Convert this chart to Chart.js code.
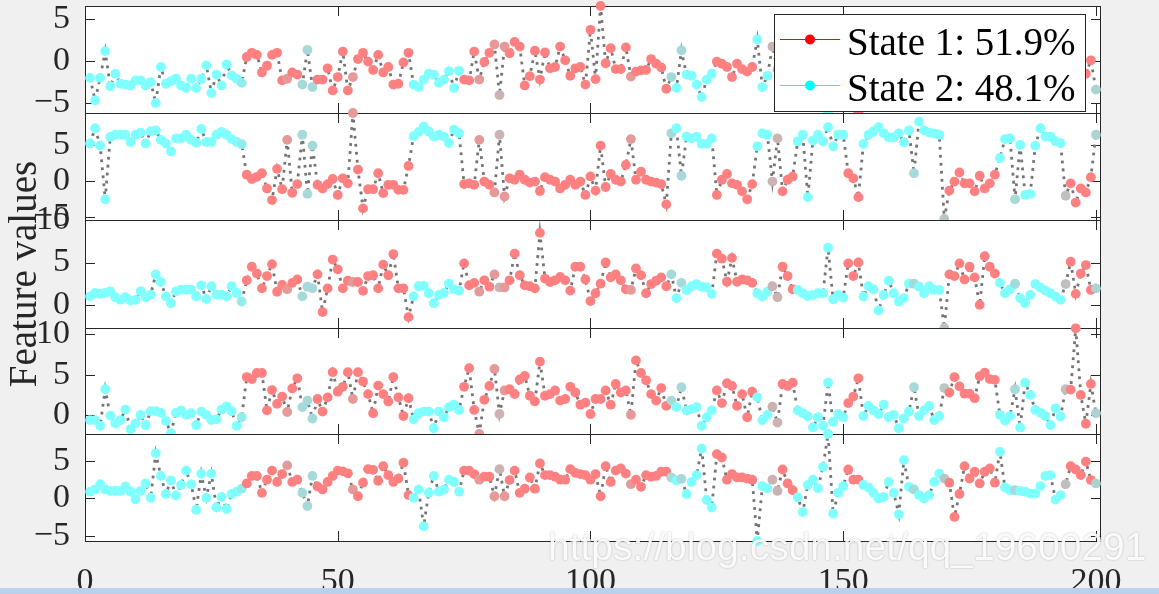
<!DOCTYPE html>
<html>
<head>
<meta charset="utf-8">
<script src="https://cdn.jsdelivr.net/npm/chart.js@4.4.1/dist/chart.umd.min.js"></script>
<style>
html,body{margin:0;padding:0;background:#f0f0f0;width:1159px;height:594px;overflow:hidden;position:relative}
canvas.c{position:absolute;left:0;top:0}
#wm{position:absolute;left:548px;top:525px;font-family:"Liberation Sans",Arial,sans-serif;font-size:39px;color:rgba(255,255,255,0.92);text-shadow:0 0 2px rgba(0,0,0,0.28);white-space:nowrap;z-index:10}
#band{position:absolute;left:0;top:588px;width:1159px;height:6px;background:#b9d1ea;z-index:11}
</style>
</head>
<body>
<canvas id="p1" class="c" width="1159" height="594"></canvas>
<canvas id="p2" class="c" width="1159" height="594"></canvas>
<canvas id="p3" class="c" width="1159" height="594"></canvas>
<canvas id="p4" class="c" width="1159" height="594"></canvas>
<canvas id="p5" class="c" width="1159" height="594"></canvas>
<div id="wm">https://blog.csdn.net/qq_19600291</div>
<div id="band"></div>
<script>
// ---------------- data ----------------
const timeSteps = Array.from({length: 200}, (_, k) => k + 1);

const feature1 = [
-2.0,-4.7,-2.0,1.2,-3.0,-1.5,-2.7,-2.8,-2.9,-2.3,
-2.3,-2.9,-2.5,-5.0,-0.7,-2.7,-2.4,-2.1,-2.9,-3.2,
-2.1,-3.2,-2.1,-0.5,-3.8,-1.6,-2.9,-0.4,-1.7,-2.1,
-2.6,0.5,1.0,0.75,-1.35,-0.55,0.75,1.0,-2.3,-2.1,
-1.35,-1.6,-2.8,1.35,-3.1,-2.2,-2.2,-0.85,-3.5,-1.9,
1.15,-3.5,-1.9,0.25,1.0,-0.05,-1.05,0.75,-1.35,-0.7,
-2.8,-2.7,-0.15,1.0,-2.8,-3.1,-2.2,-1.5,-1.6,-2.6,
-2.2,-1.2,-3.2,-1.15,-2.2,-2.3,1.15,-2.2,-0.1,1.0,
2.0,-4.05,1.75,0.95,2.3,1.75,-2.9,-1.8,1.25,-2.2,
1.05,-0.85,-0.7,1.75,0.1,-1.75,-0.85,-0.7,-2.8,3.75,
-2.15,6.6,-0.25,1.55,-0.95,-0.95,1.65,-1.85,-1.25,-1.1,
-1.05,0.25,-0.3,-0.75,-3.3,-1.9,-3.2,1.3,-1.6,-1.75,
-2.8,-4.3,-2.2,-1.5,-0.05,-0.3,-0.7,-1.9,-0.3,-0.95,
-1.25,-0.7,2.6,-3.1,-1.75,1.75,-1.0,-0.5,-2.0,0.8,
-2.5,-3.0,-1.8,-2.9,-2.4,-3.3,-6.2,-2.1,-2.7,-1.5,
0.6,-1.2,-6.1,-2.6,-3.0,-2.2,-3.4,-2.5,-1.9,-2.8,
-3.1,-2.0,-2.6,-0.8,-2.9,-2.3,-3.5,-2.1,-2.7,-1.2,
0.4,-1.6,1.1,-0.9,-2.2,0.7,-1.3,1.5,-0.6,-1.8,
-2.4,-3.0,-2.2,0.3,-2.8,-3.3,-2.0,-2.6,-3.1,-1.9,
-2.5,-3.0,-2.3,-0.5,0.9,-1.4,1.2,-1.5,0.1,-3.4];

const feature2 = [
5.2,7.3,4.9,-2.5,6.1,6.4,6.4,6.4,5.4,6.4,
6.7,5.2,6.9,7.0,5.7,5.2,4.1,5.9,5.9,6.4,
5.7,5.3,7.2,5.4,5.4,6.4,6.8,6.4,5.8,5.4,
5.1,0.9,0.3,0.6,1.1,-1.0,-2.6,1.7,-1.1,5.7,
-1.6,-0.4,6.4,-1.75,4.9,-0.5,-1.0,-0.4,0.3,-1.9,
0.4,-0.3,9.4,1.6,-3.75,-1.1,-1.1,1.1,-1.65,-0.5,
-0.5,-1.2,-1.2,2.1,6.2,6.8,7.55,6.85,6.15,6.4,
6.15,5.25,7.1,6.6,-0.4,-0.3,-0.5,5.7,-0.05,-0.5,
-1.55,6.4,-2.1,0.4,0.2,0.9,0.2,-0.2,-0.05,-1.35,
0.55,0.2,-0.05,-1.0,-0.5,0.2,-0.5,-0.05,-1.9,0.65,
-1.3,4.9,-0.8,1.0,0.2,-0.05,2.25,5.8,0.2,1.3,
0.2,-0.05,-0.2,-0.4,-3.2,6.6,7.3,0.75,6.15,5.9,
6.15,5.15,5.15,5.9,-1.9,0.2,1.0,-0.3,-0.5,-1.4,
-2.5,-0.4,4.8,6.6,6.4,-0.05,5.9,-1.4,0.2,0.65,
5.5,6.4,-2.2,5.6,6.4,5.5,7.45,4.8,6.4,6.4,
1.1,0.4,-2.2,5.15,6.4,6.85,7.45,6.6,6.05,6.05,
6.6,5.35,7.0,1.1,8.2,7.0,6.7,6.6,6.4,-5.2,
-1.3,-0.05,1.2,-0.3,-0.3,-1.4,0.75,-1.0,-0.3,0.9,
3.2,5.8,5.9,-2.5,5.0,-1.9,-1.75,4.9,7.3,6.15,
6.15,5.5,5.25,-2.0,-0.3,-2.95,-1.0,-1.55,0.55,6.4];

const feature3 = [
1.0,1.4,1.3,1.4,1.6,0.9,0.6,0.9,0.5,0.6,
1.6,0.9,1.2,3.6,2.7,1.0,0.2,1.6,1.8,1.8,
1.8,1.0,2.3,0.7,2.2,1.2,1.2,1.0,2.2,1.4,
0.4,2.9,4.5,3.7,1.95,3.4,4.8,1.55,2.35,1.85,
2.6,3.0,1.0,2.15,1.95,3.6,-0.85,1.95,5.35,4.2,
1.95,2.85,2.7,2.7,1.65,3.4,3.5,1.95,4.75,3.5,
6.0,1.95,1.95,-1.45,1.0,2.2,2.25,1.37,0.2,1.17,
1.4,2.5,1.84,1.68,4.9,2.3,2.6,1.56,2.9,2.15,
3.6,2.06,2.06,2.9,6.05,3.5,2.3,2.2,1.95,8.5,
3.1,2.7,2.9,3.3,2.9,1.68,4.5,4.5,3.0,0.45,
1.37,2.5,5.0,3.25,3.6,2.9,1.84,1.76,4.3,3.5,
1.37,2.46,2.85,3.25,2.2,3.6,0.8,2.6,1.76,2.2,
2.46,2.15,2.06,1.3,6.05,5.45,2.73,5.55,2.73,3.0,
2.9,2.6,1.37,0.98,1.56,2.2,0.9,4.5,3.4,1.84,
1.76,1.37,1.05,1.17,1.37,1.37,6.75,0.66,1.17,0.86,
4.9,3.4,5.0,0.98,2.2,1.84,-0.66,1.17,2.85,1.37,
0.4,0.8,2.5,2.5,2.15,1.37,2.2,1.76,1.76,-2.73,
3.6,3.4,4.9,3.0,4.5,3.25,0.0,5.75,4.5,3.7,
2.6,1.37,1.84,2.5,0.8,0.2,1.17,2.46,2.06,1.68,
1.37,0.98,0.6,2.46,5.1,1.3,3.7,4.7,1.76,1.95];

const feature4 = [
-0.6,-0.6,-1.3,3.2,-0.05,-1.0,-0.6,0.7,-1.7,-1.0,
0.05,-1.2,0.5,0.5,0.3,-0.7,-2.2,0.3,0.6,0.05,
0.25,-1.2,0.45,0.05,-0.6,-0.5,0.7,1.1,0.5,-1.3,
-0.25,4.7,4.45,5.2,5.2,0.6,3.1,1.4,2.3,0.4,
3.3,4.55,1.0,1.8,-0.4,2.0,0.45,2.2,5.3,2.9,
3.5,5.3,2.0,5.3,4.15,2.6,0.25,3.65,2.6,1.7,
4.7,2.2,-0.1,2.1,-0.5,0.25,0.45,0.45,-1.6,0.45,
-0.25,1.0,1.3,0.65,3.5,5.8,0.65,-2.3,1.9,3.6,
5.7,0.15,3.05,3.2,2.6,4.4,4.85,2.4,1.7,6.6,
2.4,2.6,3.05,1.8,2.0,3.5,2.8,1.3,1.55,0.15,
2.0,2.0,3.05,1.3,3.85,2.8,3.05,0.05,6.75,5.2,
4.3,2.6,1.8,3.35,1.15,1.8,1.0,3.45,0.6,0.75,
1.0,-1.3,-0.25,0.6,3.05,1.5,3.95,3.6,1.15,2.6,
-0.25,2.9,2.2,-0.6,0.05,1.05,-0.9,3.85,3.6,4.0,
0.6,0.25,-0.15,-1.5,-0.25,-1.3,4.0,-0.8,0.15,-0.25,
1.5,2.3,4.55,-0.1,1.15,0.6,0.15,1.3,-0.25,0.05,
-1.6,-0.4,0.45,3.45,-0.1,0.6,1.15,-0.6,-0.1,3.35,
2.8,4.7,3.55,2.65,2.65,2.1,4.8,5.25,4.45,4.35,
0.05,-0.65,-0.1,3.2,-1.5,4.0,2.5,0.65,0.3,-0.1,
-1.2,0.85,-0.15,3.2,3.15,10.7,2.5,-1.05,3.85,0.25];

const feature5 = [
0.9,1.2,1.9,1.2,1.0,1.0,1.0,1.6,0.9,-0.1,
1.0,2.0,0.1,6.0,3.0,0.6,2.4,0.4,1.8,3.7,
1.9,-1.5,3.3,0.1,3.3,-1.2,0.2,-1.4,0.6,0.9,
1.3,2.0,3.0,3.0,0.75,2.5,3.7,2.2,3.25,4.4,
2.2,2.5,0.75,-1.0,3.0,1.6,1.2,2.2,3.0,3.7,
3.6,3.35,1.2,0.3,2.1,3.9,3.8,2.35,4.3,3.1,
2.2,2.65,4.75,0.45,0.1,1.2,-3.7,0.75,3.0,0.9,
1.2,2.5,2.2,0.9,3.7,3.7,3.25,2.5,2.9,2.9,
0.3,3.9,0.3,2.45,3.7,0.75,1.3,2.8,1.3,4.65,
3.1,3.1,2.9,2.5,2.5,3.9,3.4,3.25,3.1,2.5,
3.25,0.3,4.3,2.2,3.7,4.0,3.3,1.9,2.5,1.55,
3.1,2.9,3.0,3.55,3.55,2.8,2.4,2.6,0.6,2.2,
3.1,6.65,-0.2,-1.2,5.9,5.45,2.5,3.25,2.8,2.8,
2.65,2.5,-5.65,1.65,1.35,2.5,1.0,3.85,2.0,1.1,
0.15,-1.8,1.8,2.5,1.35,4.2,8.57,-2.0,0.75,1.65,
3.85,2.5,2.5,1.8,1.45,0.75,0.0,0.2,2.2,0.75,
-2.1,5.1,1.55,1.2,0.45,0.0,0.45,2.2,3.3,2.65,
2.1,-2.45,0.6,4.3,2.65,3.55,2.0,3.55,4.0,2.1,
6.2,1.45,1.1,1.1,1.0,0.9,0.65,0.65,1.65,3.0,
3.1,-0.15,0.45,1.9,4.3,3.85,3.1,4.9,2.45,2.0];

// probability of State 1 at each time step (1 = State 1, 0 = State 2)
const probState1 = [
0,0,0,0,0,0,0,0,0,0,
0,0,0,0,0,0,0,0,0,0,
0,0,0,0,0,0,0,0,0,0,
0.15,1,1,1,1,1,1,1,1,0.8,
1,1,0.3,0.3,0.3,1,1,1,1,1,
1,1,0.8,1,1,1,1,1,1,1,
1,1,1,1,0,0,0,0,0,0,
0,0,0,0,1,1,1,0.8,1,1,
0.8,0.6,0.8,1,1,1,1,1,1,1,
1,1,1,1,1,1,1,1,1,1,
1,1,1,1,1,1,1,0.8,1,1,
1,1,1,1,1,0.3,0,0.3,0,0,
0,0,0,0,1,1,1,1,1,1,
1,1,0,0,0,0.6,0.6,1,1,1,
0,0,0,0,0,0,0,0,0,0,
1,1,1,0,0,0,0,0,0,0,
0,0,0,0.3,0,0,0,0,0,0.45,
1,1,1,1,1,1,1,1,1,1,
0,0,0,0.3,0,0,0,0,0,0,
0,0,0,0.5,1,1,1,1,1,0.35];

const features = [feature1, feature2, feature3, feature4, feature5];
const yTickValues = [[-5, 0, 5], [-5, 0, 5], [0, 5, 10], [0, 5, 10], [-5, 0, 5]];
const yLimits = [[-6.2, 6.6], [-5.35, 9.4], [-2.73, 10.02], [-2.31, 10.74], [-5.65, 8.57]];
const xTickValues = [0, 50, 100, 150, 200];
const legendLabels = ['State 1: 51.9%', 'State 2: 48.1%'];
const legendColors = ['#ff0000', '#00ffff'];
const yAxisTitle = 'Feature values';

// ---------------- layout / style ----------------
const W = 1159, H = 594;
const panelEdges = [6, 113, 220, 328, 434, 541];
const plotLeft = 85, plotRight = 1101;
const TICK_LEN = 10;
const AXIS_COLOR = '#262626';
const SERIF = '"Liberation Serif","Times New Roman",serif';

function stateColor(p) {
  const r = Math.round(255 * (0.5 + 0.5 * p));
  const g = Math.round(255 * (1 - 0.5 * p));
  return 'rgb(' + r + ',' + g + ',' + g + ')';
}
const pointColors = probState1.map(stateColor);

const framePlugin = {
  id: 'frame',
  beforeDraw(chart) {
    const {ctx, chartArea: a} = chart;
    ctx.save();
    ctx.fillStyle = '#ffffff';
    ctx.fillRect(a.left, a.top, a.right - a.left, a.bottom - a.top);
    ctx.restore();
  },
  beforeDatasetsDraw(chart) {
    const {ctx, chartArea: a, scales} = chart;
    const x = scales.x, y = scales.y;
    ctx.save();
    ctx.strokeStyle = AXIS_COLOR;
    ctx.lineWidth = 1;
    ctx.beginPath();
    xTickValues.forEach(v => {
      const px = Math.round(x.getPixelForValue(v)) + 0.5;
      ctx.moveTo(px, a.top); ctx.lineTo(px, a.top + TICK_LEN);
      ctx.moveTo(px, a.bottom); ctx.lineTo(px, a.bottom - TICK_LEN);
    });
    chart.options.yTicks.forEach(v => {
      const py = Math.round(y.getPixelForValue(v)) + 0.5;
      ctx.moveTo(a.left, py); ctx.lineTo(a.left + TICK_LEN, py);
      ctx.moveTo(a.right, py); ctx.lineTo(a.right - TICK_LEN, py);
    });
    ctx.stroke();
    ctx.strokeRect(a.left + 0.5, a.top + 0.5, a.right - a.left - 1, a.bottom - a.top);
    ctx.restore();
  }
};

const legendPlugin = {
  id: 'stateLegend',
  afterDatasetsDraw(chart) {
    const ctx = chart.ctx;
    const box = {l: 774, t: 14, r: 1085, b: 111};
    ctx.save();
    ctx.fillStyle = '#ffffff';
    ctx.fillRect(box.l, box.t, box.r - box.l, box.b - box.t);
    ctx.strokeStyle = AXIS_COLOR;
    ctx.lineWidth = 1;
    ctx.strokeRect(box.l + 0.5, box.t + 0.5, box.r - box.l, box.b - box.t);
    const rows = [39.5, 85.5];
    legendLabels.forEach((lab, k) => {
      const yy = rows[k];
      ctx.strokeStyle = legendColors[k];
      ctx.lineWidth = 1;
      ctx.beginPath(); ctx.moveTo(780, yy); ctx.lineTo(840, yy); ctx.stroke();
      ctx.fillStyle = legendColors[k];
      ctx.beginPath(); ctx.arc(810, yy, 5, 0, Math.PI * 2); ctx.fill();
      ctx.fillStyle = '#000000';
      ctx.font = '39px ' + SERIF;
      ctx.textBaseline = 'alphabetic';
      ctx.textAlign = 'left';
      ctx.fillText(lab, 847, yy + 15);
    });
    ctx.restore();
  }
};

function makePanel(idx) {
  const isLast = idx === 4;
  const top = panelEdges[idx], bottom = panelEdges[idx + 1];
  const vals = features[idx];
  const ticks = yTickValues[idx];
  const cfg = {
    type: 'line',
    data: {
      datasets: [{
        data: timeSteps.map((t, k) => ({x: t, y: vals[k]})),
        borderColor: '#747474',
        borderWidth: 2.8,
        borderDash: [2.8, 5.2],
        borderCapStyle: 'butt',
        pointRadius: 4.9,
        pointHoverRadius: 4.9,
        pointBorderWidth: 0,
        pointBackgroundColor: pointColors,
        pointBorderColor: pointColors,
        tension: 0,
        clip: false,
        fill: false
      }]
    },
    options: {
      responsive: false,
      animation: false,
      devicePixelRatio: 1,
      events: [],
      yTicks: ticks,
      layout: {padding: {left: 0, right: W - plotRight, top: top, bottom: isLast ? 0 : H - bottom}},
      plugins: {legend: {display: false}, tooltip: {enabled: false}},
      scales: {
        x: {
          type: 'linear', min: 0, max: 201,
          display: isLast,
          grid: {display: false},
          border: {display: false},
          afterBuildTicks: s => { s.ticks = xTickValues.map(v => ({value: v})); },
          afterFit: s => { s.height = isLast ? H - bottom : 0; s.paddingLeft = 0; s.paddingRight = 0; },
          ticks: {
            autoSkip: false, maxRotation: 0, padding: 13,
            color: AXIS_COLOR,
            font: {family: SERIF, size: 34}
          }
        },
        y: {
          type: 'linear', min: yLimits[idx][0], max: yLimits[idx][1],
          grid: {display: false, drawTicks: false},
          border: {display: false},
          afterBuildTicks: s => { s.ticks = ticks.map(v => ({value: v})); },
          afterFit: s => { s.width = plotLeft; s.paddingTop = 0; s.paddingBottom = 0; },
          ticks: {
            autoSkip: false, padding: 15,
            color: AXIS_COLOR,
            font: {family: SERIF, size: 34},
            callback: v => String(v).replace('-', '\u2212')
          },
          title: {
            display: idx === 2,
            text: yAxisTitle,
            color: AXIS_COLOR,
            font: {family: SERIF, size: 39},
            padding: {top: 2, bottom: 0}
          }
        }
      }
    },
    plugins: idx === 0 ? [framePlugin, legendPlugin] : [framePlugin]
  };
  return new Chart(document.getElementById('p' + (idx + 1)), cfg);
}

for (let i = 0; i < 5; i++) makePanel(i);
</script>
</body>
</html>
